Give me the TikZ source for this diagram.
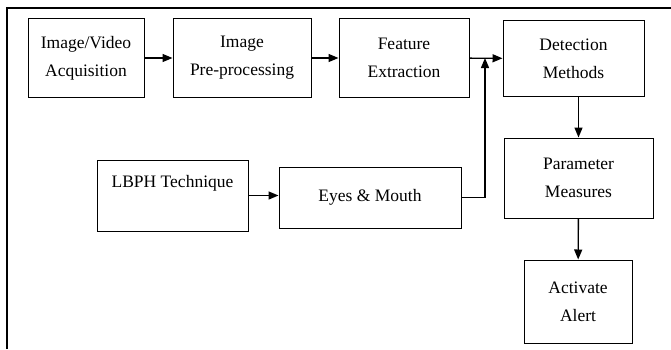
\documentclass[tikz,border=0pt]{standalone}
\usepackage{fontspec}
\setmainfont{Liberation Serif}
\usetikzlibrary{arrows.meta}
\begin{document}
\begin{tikzpicture}[
  x=1pt, y=1pt,
  box/.style={draw, line width=1pt, align=center, inner sep=0pt, font=\fontsize{17.5}{28}\selectfont},
  arrow/.style={-{Triangle[length=10pt,width=8pt]}, line width=1.4pt},
  frame/.style={line width=2pt}
]
\useasboundingbox (0,0) rectangle (671,349);
\draw[frame] (7,0) -- (7,341) -- (671,341);
\node[box, minimum width=116, minimum height=78] (acq) at (86,291) {Image/Video\\Acquisition};
\node[box, minimum width=138, minimum height=78] (pre) at (242,291) {Image\\Pre-processing};
\node[box, minimum width=130, minimum height=78] (feat) at (404,291) {Feature\\Extraction};
\node[box, minimum width=141, minimum height=76] (det) at (573.5,290.5) {Detection\\Methods};
\node[box, minimum width=149, minimum height=80] (param) at (578.5,171) {Parameter\\Measures};
\node[box, minimum width=108, minimum height=83] (act) at (578,47.5) {Activate\\Alert};
\node[box, minimum width=151, minimum height=71] (lbph) at (172.5,153.5) {LBPH Technique\\ \mbox{}};
\node[box, minimum width=182, minimum height=61] (eyes) at (370,151.5) {Eyes \& Mouth};
\coordinate (join) at (485,291);
\draw[arrow] (acq) -- (pre);
\draw[arrow] (pre) -- (feat);
\draw[arrow] (feat) -- (det);
\draw[arrow] (lbph.east) -- (lbph.east -| eyes.west);
\draw[arrow] (eyes.east) -| (join);
\draw[arrow] (det.south -| param.north) -- (param.north);
\draw[arrow] (param) -- (act);
\end{tikzpicture}
\end{document}
